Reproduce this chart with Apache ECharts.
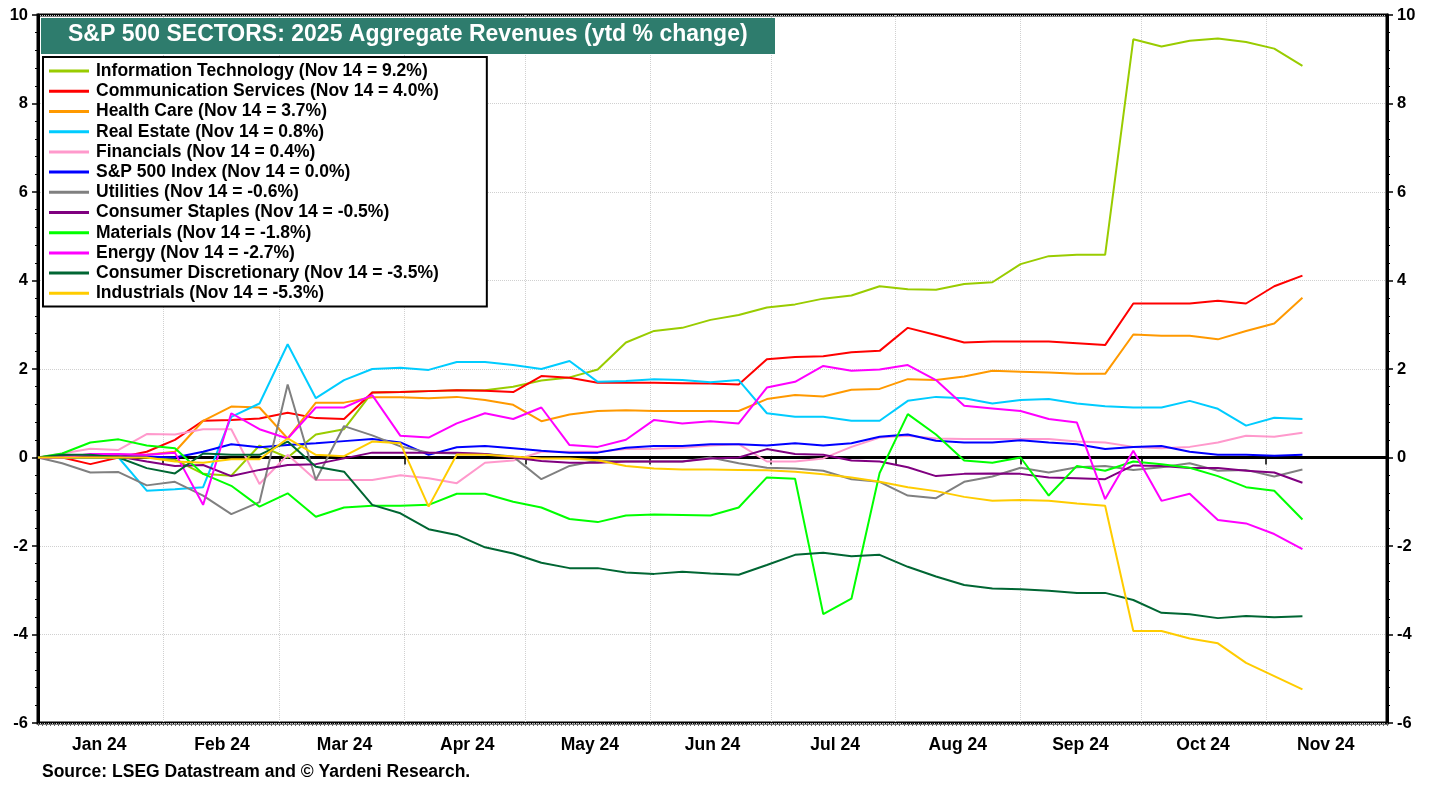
<!DOCTYPE html>
<html>
<head>
<meta charset="utf-8">
<script src="https://cdn.jsdelivr.net/npm/echarts@6/dist/echarts.min.js"></script>
<style>
html, body { margin: 0; padding: 0; background: #fff; }
#container { width: 1438px; height: 787px; }
</style>
</head>
<body>
<div id="container"></div>
<script>
// weekly dates of the data points
var dates = ['2024-01-01', '2024-01-07', '2024-01-14', '2024-01-21', '2024-01-28',
    '2024-02-04', '2024-02-11', '2024-02-18', '2024-02-25',
    '2024-03-03', '2024-03-10', '2024-03-17', '2024-03-24', '2024-03-31',
    '2024-04-07', '2024-04-14', '2024-04-21', '2024-04-28',
    '2024-05-05', '2024-05-12', '2024-05-19', '2024-05-26',
    '2024-06-02', '2024-06-09', '2024-06-16', '2024-06-23', '2024-06-30',
    '2024-07-07', '2024-07-14', '2024-07-21', '2024-07-28',
    '2024-08-04', '2024-08-11', '2024-08-18', '2024-08-25',
    '2024-09-01', '2024-09-08', '2024-09-15', '2024-09-22', '2024-09-29',
    '2024-10-06', '2024-10-13', '2024-10-20', '2024-10-27',
    '2024-11-03', '2024-11-10'];

// month labels (centered between month ticks)
var months = ['Jan 24', 'Feb 24', 'Mar 24', 'Apr 24', 'May 24', 'Jun 24',
    'Jul 24', 'Aug 24', 'Sep 24', 'Oct 24', 'Nov 24'];

var sectors = ['Information Technology', 'Communication Services', 'Health Care', 'Real Estate',
    'Financials', 'S&P 500 Index', 'Utilities', 'Consumer Staples', 'Materials', 'Energy',
    'Consumer Discretionary', 'Industrials'];
var latest = ['9.2', '4.0', '3.7', '0.8', '0.4', '0.0', '-0.6', '-0.5', '-1.8', '-2.7', '-3.5', '-5.3'];

var infoTech = [0, 0.05, 0.05, 0.05, 0, -0.05, -0.37, -0.41, 0.27, 0, 0.52, 0.64, 1.47, 1.48, 1.50, 1.52,
    1.52, 1.6, 1.74, 1.81, 1.99, 2.6, 2.86, 2.93, 3.11, 3.22, 3.39, 3.46, 3.59, 3.66, 3.87, 3.8, 3.79,
    3.92, 3.96, 4.37, 4.55, 4.58, 4.58, 9.45, 9.29, 9.42, 9.47, 9.39, 9.24, 8.85];
var commServices = [0, 0, -0.15, 0, 0.13, 0.4, 0.83, 0.85, 0.88, 1.01, 0.89, 0.87, 1.47, 1.48, 1.5, 1.52,
    1.51, 1.48, 1.84, 1.8, 1.69, 1.69, 1.69, 1.68, 1.67, 1.65, 2.22, 2.27, 2.29, 2.38, 2.41, 2.93, 2.77,
    2.6, 2.62, 2.62, 2.62, 2.58, 2.54, 3.48, 3.48, 3.48, 3.54, 3.48, 3.87, 4.11];
var healthCare = [0, 0, 0, 0, 0.06, 0.13, 0.83, 1.15, 1.13, 0.43, 1.24, 1.24, 1.36, 1.36, 1.34, 1.37,
    1.3, 1.19, 0.82, 0.97, 1.05, 1.07, 1.05, 1.05, 1.05, 1.05, 1.32, 1.41, 1.38, 1.53, 1.55, 1.77, 1.75,
    1.83, 1.96, 1.94, 1.92, 1.89, 1.89, 2.78, 2.75, 2.75, 2.67, 2.86, 3.03, 3.61];
var realEstate = [0, 0, 0, 0, -0.75, -0.72, -0.67, 0.92, 1.22, 2.56, 1.34, 1.75, 2.0, 2.03, 1.98, 2.16,
    2.16, 2.09, 2.0, 2.18, 1.71, 1.73, 1.77, 1.75, 1.70, 1.75, 1.0, 0.92, 0.92, 0.83, 0.83, 1.28, 1.37,
    1.34, 1.22, 1.3, 1.32, 1.22, 1.16, 1.13, 1.13, 1.28, 1.1, 0.72, 0.9, 0.87];
var financials = [0, 0.09, 0.2, 0.17, 0.53, 0.52, 0.64, 0.64, -0.6, 0.06, -0.51, -0.51, -0.51, -0.4, -0.47,
    -0.58, -0.12, -0.07, 0.13, 0.13, 0.13, 0.19, 0.2, 0.22, 0.27, 0.3, -0.09, -0.09, -0.02, 0.24, 0.45,
    0.49, 0.43, 0.42, 0.42, 0.42, 0.42, 0.36, 0.34, 0.24, 0.21, 0.24, 0.34, 0.49, 0.47, 0.56];
var sp500 = [0, 0.03, 0.02, 0.02, 0.02, 0, 0.13, 0.3, 0.23, 0.28, 0.32, 0.37, 0.42, 0.34, 0.06, 0.23,
    0.26, 0.21, 0.15, 0.11, 0.11, 0.22, 0.26, 0.26, 0.3, 0.3, 0.27, 0.32, 0.27, 0.32, 0.47, 0.52, 0.38,
    0.34, 0.34, 0.39, 0.34, 0.3, 0.19, 0.24, 0.26, 0.13, 0.06, 0.06, 0.04, 0.06];
var utilities = [0, -0.13, -0.34, -0.33, -0.63, -0.55, -0.86, -1.28, -1.01, 1.65, -0.51, 0.71, 0.5, 0.25,
    0.11, 0.09, 0.08, 0.02, -0.49, -0.19, -0.07, -0.09, -0.09, -0.09, 0, -0.13, -0.23, -0.25, -0.3, -0.49,
    -0.55, -0.86, -0.92, -0.55, -0.43, -0.23, -0.34, -0.22, -0.19, -0.28, -0.22, -0.13, -0.3, -0.28, -0.43, -0.27];
var staples = [0, 0.02, 0.02, 0.02, -0.09, -0.19, -0.17, -0.42, -0.28, -0.17, -0.15, -0.02, 0.11, 0.11,
    0.11, 0.11, 0.08, 0, -0.08, -0.12, -0.12, -0.09, -0.09, -0.09, -0.02, 0, 0.19, 0.08, 0.06, -0.07, -0.09,
    -0.22, -0.42, -0.37, -0.36, -0.37, -0.45, -0.47, -0.49, -0.18, -0.19, -0.24, -0.24, -0.3, -0.34, -0.57];
var materials = [0, 0.09, 0.34, 0.41, 0.27, 0.21, -0.37, -0.64, -1.11, -0.81, -1.34, -1.13, -1.09, -1.09,
    -1.07, -0.82, -0.82, -1.0, -1.13, -1.39, -1.46, -1.31, -1.29, -1.3, -1.31, -1.13, -0.45, -0.48, -3.54,
    -3.19, -0.35, 0.98, 0.52, -0.07, -0.12, 0, -0.86, -0.19, -0.3, -0.09, -0.15, -0.23, -0.42, -0.67, -0.75, -1.4];
var energy = [0, 0, 0.08, 0.08, 0.06, 0.11, -1.07, 1.0, 0.64, 0.43, 1.13, 1.13, 1.41, 0.49, 0.45, 0.77,
    1.0, 0.87, 1.13, 0.28, 0.24, 0.4, 0.85, 0.77, 0.82, 0.77, 1.58, 1.71, 2.07, 1.96, 1.99, 2.09, 1.75,
    1.17, 1.11, 1.05, 0.87, 0.79, -0.94, 0.15, -0.98, -0.82, -1.41, -1.49, -1.73, -2.07];
var discretionary = [0, 0.06, 0.06, 0, -0.24, -0.36, 0.09, 0.06, 0.06, 0.36, -0.21, -0.32, -1.07, -1.26,
    -1.62, -1.75, -2.03, -2.17, -2.38, -2.5, -2.5, -2.6, -2.63, -2.58, -2.62, -2.65, -2.43, -2.2, -2.15,
    -2.23, -2.2, -2.47, -2.69, -2.88, -2.96, -2.98, -3.01, -3.06, -3.06, -3.22, -3.51, -3.54, -3.63, -3.58, -3.61, -3.59];
var industrials = [0, 0, 0, 0, 0, -0.09, -0.12, -0.04, -0.04, 0.43, 0.06, 0.03, 0.36, 0.32, -1.11, 0.07,
    0.06, 0.02, -0.02, -0.02, -0.06, -0.19, -0.25, -0.27, -0.27, -0.28, -0.29, -0.32, -0.38, -0.45, -0.55,
    -0.67, -0.76, -0.89, -0.98, -0.96, -0.98, -1.04, -1.09, -3.92, -3.92, -4.09, -4.2, -4.64, -4.94, -5.24];

var allValues = [infoTech, commServices, healthCare, realEstate, financials, sp500, utilities,
    staples, materials, energy, discretionary, industrials];

var colors = ['#99cc00', '#ff0000', '#ff9900', '#00ccff', '#ff99cc', '#0000ff', '#808080',
    '#800080', '#00ff00', '#ff00ff', '#006633', '#ffcc00'];

var FONT = "'Liberation Sans', Arial, sans-serif";

var dom = document.getElementById('container');
var myChart = echarts.init(dom);

var series = [];
for (var s = 0; s < sectors.length; s++) {
    var points = [];
    for (var i = 0; i < dates.length; i++) {
        points.push([dates[i], allValues[s][i]]);
    }
    var item = {
        name: sectors[s] + ' (Nov 14 = ' + latest[s] + '%)',
        type: 'line',
        xAxisIndex: 0,
        yAxisIndex: 0,
        data: points,
        symbol: 'none',
        showSymbol: false,
        silent: true,
        color: colors[s],
        lineStyle: { width: 2, color: colors[s] },
        emphasis: { disabled: true },
        z: 3
    };
    if (s === 0) {
        // zero line
        item.markLine = {
            silent: true,
            symbol: 'none',
            label: { show: false },
            lineStyle: { color: '#000', width: 2.5, type: 'solid' },
            data: [{ yAxis: 0 }],
            z: 2
        };
    }
    series.push(item);
}

var yAxisBase = {
    type: 'value',
    min: -6,
    max: 10,
    interval: 2,
    axisLine: { show: true, lineStyle: { color: '#000', width: 3 } },
    axisTick: { show: true, inside: false, length: 6, lineStyle: { color: '#000', width: 1.5 } },
    minorTick: { show: true, splitNumber: 5, length: 3, lineStyle: { color: '#000', width: 1 } },
    axisLabel: { color: '#000', fontWeight: 'bold', fontSize: 16.5, fontFamily: FONT, margin: 10 }
};

option = {
    animation: false,
    backgroundColor: '#fff',
    grid: {
        left: 38, right: 51, top: 15, bottom: 64,
        show: true, borderColor: '#000', borderWidth: 3
    },
    legend: {
        orient: 'vertical',
        left: 43,
        top: 57,
        padding: [4, 48, 3, 6],
        icon: 'rect',
        itemWidth: 40,
        itemHeight: 3,
        itemGap: 0,
        backgroundColor: '#fff',
        borderColor: '#000',
        borderWidth: 2,
        selectedMode: false,
        textStyle: {
            color: '#000', fontWeight: 'bold', fontSize: 17.5, fontFamily: FONT,
            lineHeight: 20.2, padding: [0, 0, 0, 2]
        },
        z: 20
    },
    xAxis: [
        {
            type: 'time',
            min: '2024-01-01',
            max: '2024-12-01',
            splitNumber: 11,
            minInterval: 28 * 86400000,
            maxInterval: 31 * 86400000,
            axisLine: { show: true, lineStyle: { color: '#000', width: 3 } },
            axisTick: { show: true, length: 7, lineStyle: { color: '#000', width: 1.5 } },
            axisLabel: { show: false },
            splitLine: { show: true, lineStyle: { color: '#d0d0d0', type: 'dotted', width: 1 } }
        },
        {
            type: 'category',
            data: months,
            position: 'bottom',
            boundaryGap: true,
            axisLine: { show: false },
            axisTick: { show: false },
            splitLine: { show: false },
            axisLabel: { color: '#000', fontWeight: 'bold', fontSize: 17.5, fontFamily: FONT, margin: 13 }
        },
        {
            // daily minor ticks
            type: 'value',
            min: 0,
            max: 335,
            interval: 1,
            position: 'bottom',
            axisLine: { show: false },
            axisTick: { show: true, length: 3, lineStyle: { color: '#666', width: 1 } },
            axisLabel: { show: false },
            splitLine: { show: false }
        }
    ],
    yAxis: [
        echarts.util.merge({
            position: 'left',
            splitLine: { show: true, lineStyle: { color: '#d0d0d0', type: 'dotted', width: 1 } }
        }, yAxisBase, true),
        echarts.util.merge({
            position: 'right',
            splitLine: { show: false }
        }, yAxisBase, true)
    ],
    graphic: [
        {
            type: 'rect',
            left: 41, top: 18,
            shape: { width: 734, height: 36 },
            style: { fill: '#2e7c6d' },
            z: 30
        },
        {
            type: 'text',
            left: 68, top: 23,
            style: {
                text: 'S&P 500 SECTORS: 2025 Aggregate Revenues (ytd % change)',
                fill: '#fff',
                font: 'bold 23px ' + FONT
            },
            z: 31
        },
        {
            type: 'text',
            left: 42, top: 763,
            style: {
                text: 'Source: LSEG Datastream and \u00a9 Yardeni Research.',
                fill: '#000',
                font: 'bold 17.5px ' + FONT
            },
            z: 31
        }
    ],
    series: series
};

if (option && typeof option === 'object') {
    myChart.setOption(option, true);
}
</script>
</body>
</html>
